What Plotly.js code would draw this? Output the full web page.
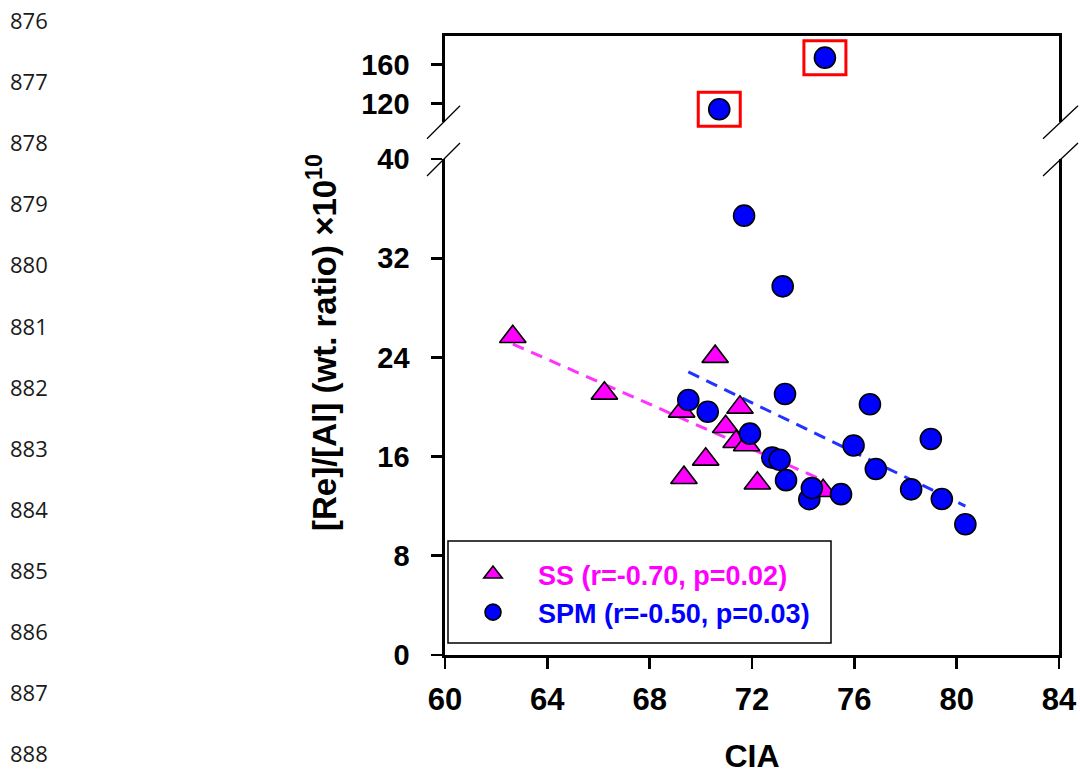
<!DOCTYPE html>
<html>
<head>
<meta charset="utf-8">
<script src="https://cdn.plot.ly/plotly-3.0.1.min.js"></script>
<style>
  html, body { margin: 0; padding: 0; background: #ffffff; }
  #chart { width: 1080px; height: 774px; }
</style>
</head>
<body>
<div id="chart"></div>
<script>
// CIA versus [Re]/[Al] (x10^10) for suspended sediment (SS) and suspended particulate matter (SPM)
const ssCIA   = [62.65, 66.23, 70.56, 69.25, 71.53, 70.97, 71.38, 71.79, 70.19, 69.34, 72.21, 74.78];
const ssRatio = [25.67, 21.10, 24.06, 19.65, 19.97, 18.41, 17.20, 16.94, 15.78, 14.30, 13.85, 13.25];

const spmCIA   = [71.69, 73.20, 69.51, 70.27, 73.29, 71.92, 72.79, 73.08, 73.33, 74.24, 74.34,
                  75.48, 75.97, 76.61, 78.99, 76.84, 78.22, 79.42, 80.34, 70.72, 74.85];
const spmRatio = [35.43, 29.73, 20.56, 19.62, 21.05, 17.85, 15.92, 15.75, 14.10, 12.57, 13.46,
                  12.97, 16.90, 20.22, 17.42, 15.00, 13.36, 12.58, 10.54, 114, 167];

const xTicks      = [60, 64, 68, 72, 76, 80, 84];
const yTicksLow   = [0, 8, 16, 24, 32, 40];
const yTicksHigh  = [120, 160];
const lineNumbers = ['876', '877', '878', '879', '880', '881', '882', '883', '884', '885', '886', '887', '888'];
const seriesNames = ['SS (r=-0.70, p=0.02)', 'SPM (r=-0.50, p=0.03)'];
const breakValue  = 40;   // values above this sit on the upper (broken) axis

const SS_COLOR  = '#ff00ff';
const SPM_COLOR = '#0000ff';
const FONT = 'Liberation Sans, Arial, sans-serif';

// figure geometry in pixels
const W = 1080, H = 774;
const M = { l: 445, r: 21, t: 36, b: 119 };
const plotW = W - M.l - M.r, plotH = H - M.t - M.b;
const pxToPaperX = px => (px - M.l) / plotW;
const pxToPaperY = py => (H - M.b - py) / plotH;
const lowTop = pxToPaperY(159);       // top of the lower panel
const highBottom = pxToPaperY(121.7); // bottom of the upper panel
const lowRange = [0, 40];
const highRange = [101.3, 189.2];
const highToPaper = v => highBottom + (v - highRange[0]) / (highRange[1] - highRange[0]) * (1 - highBottom);

// least-squares line over the span of the data
function fitLine(xs, ys) {
  const n = xs.length;
  const mx = xs.reduce((a, b) => a + b, 0) / n;
  const my = ys.reduce((a, b) => a + b, 0) / n;
  let sxy = 0, sxx = 0;
  for (let i = 0; i < n; i++) {
    sxy += (xs[i] - mx) * (ys[i] - my);
    sxx += (xs[i] - mx) * (xs[i] - mx);
  }
  const slope = sxy / sxx, icpt = my - slope * mx;
  const x0 = Math.min(...xs), x1 = Math.max(...xs);
  return { x: [x0, x1], y: [icpt + slope * x0, icpt + slope * x1] };
}

const spmLowIdx  = spmRatio.map((v, i) => i).filter(i => spmRatio[i] <= breakValue);
const spmHighIdx = spmRatio.map((v, i) => i).filter(i => spmRatio[i] > breakValue);
const spmLowX  = spmLowIdx.map(i => spmCIA[i]),  spmLowY  = spmLowIdx.map(i => spmRatio[i]);
const spmHighX = spmHighIdx.map(i => spmCIA[i]), spmHighY = spmHighIdx.map(i => spmRatio[i]);

const ssFit  = fitLine(ssCIA, ssRatio);
const spmFit = fitLine(spmLowX, spmLowY);

const circleMarker = { symbol: 'circle', size: 21, color: SPM_COLOR, line: { color: '#000', width: 1.6 } };
const triMarker    = { symbol: 'triangle-up', size: 23, color: SS_COLOR, line: { color: '#000', width: 1.6 } };

const traces = [
  { x: ssFit.x, y: ssFit.y, mode: 'lines', xaxis: 'x', yaxis: 'y', showlegend: false, hoverinfo: 'skip',
    line: { color: '#ff33ff', width: 3, dash: '12px,8px' } },
  { x: spmFit.x, y: spmFit.y, mode: 'lines', xaxis: 'x', yaxis: 'y', showlegend: false, hoverinfo: 'skip',
    line: { color: '#2233ff', width: 3, dash: '12px,8px' } },
  { x: ssCIA, y: ssRatio, mode: 'markers', xaxis: 'x', yaxis: 'y', marker: triMarker,
    name: '<span style="color:' + SS_COLOR + '">' + seriesNames[0] + '</span>' },
  { x: spmLowX, y: spmLowY, mode: 'markers', xaxis: 'x', yaxis: 'y', marker: circleMarker,
    name: '<span style="color:' + SPM_COLOR + '">' + seriesNames[1] + '</span>' },
  { x: spmHighX, y: spmHighY, mode: 'markers', xaxis: 'x2', yaxis: 'y2', marker: circleMarker, showlegend: false }
];

// red boxes around the off-scale SPM points (paper y so they are not cut at the panel edge)
const shapes = spmHighX.map((x, i) => ({
  type: 'rect', xref: 'x2', yref: 'paper',
  xsizemode: 'pixel', ysizemode: 'pixel', xanchor: x, yanchor: highToPaper(spmHighY[i]),
  x0: -21, x1: 21, y0: -17, y1: 17,
  line: { color: '#ff0000', width: 3 }
}));

// axis-break marks on both vertical edges
[[0, -18, 15], [1, -16, 19]].forEach(([side, dx0, dx1]) => {
  [highBottom, lowTop].forEach(yp => {
    shapes.push({
      type: 'line', xref: 'paper', yref: 'paper',
      xsizemode: 'pixel', ysizemode: 'pixel', xanchor: side, yanchor: yp,
      x0: dx0, x1: dx1, y0: -17, y1: 16,
      line: { color: '#000', width: 1.3 }
    });
  });
});

// framed white panel behind the legend entries
shapes.push({
  type: 'rect', xref: 'paper', yref: 'paper', layer: 'above',
  x0: pxToPaperX(448), x1: pxToPaperX(831), y0: pxToPaperY(643), y1: pxToPaperY(541),
  fillcolor: '#ffffff', line: { color: '#000', width: 1.5 }
});

const annotations = lineNumbers.map((t, i) => ({
  text: t, xref: 'paper', yref: 'paper',
  x: pxToPaperX(8), y: pxToPaperY(20 + i * 61.1),
  xanchor: 'left', yanchor: 'middle', showarrow: false,
  font: { family: 'Open Sans, Noto Sans, sans-serif', size: 22, color: '#1a1a1a' }
}));

annotations.push({
  text: '[Re]/[Al] (wt. ratio) ×10<sup>10</sup>',
  xref: 'paper', yref: 'paper', x: pxToPaperX(322), y: pxToPaperY(343),
  xanchor: 'center', yanchor: 'middle', textangle: -90, showarrow: false,
  font: { family: FONT, size: 33, color: '#000', weight: 'bold' }
});

const axisCommon = {
  showline: true, linecolor: '#000', linewidth: 2.6,
  ticks: 'outside', ticklen: 11, tickwidth: 2.6, tickcolor: '#000',
  showgrid: false, zeroline: false, fixedrange: true,
  tickfont: { family: FONT, size: 29, color: '#000', weight: 'bold' }
};

const layout = {
  width: W, height: H,
  margin: M,
  paper_bgcolor: '#ffffff', plot_bgcolor: '#ffffff',
  font: { family: FONT, color: '#000' },
  showlegend: true,
  legend: {
    x: pxToPaperX(448), y: pxToPaperY(550), xanchor: 'left', yanchor: 'top',
    bgcolor: 'rgba(0,0,0,0)', borderwidth: 0,
    font: { family: FONT, size: 27, weight: 'bold' },
    itemwidth: 80, tracegroupgap: 4
  },
  xaxis: Object.assign({}, axisCommon, {
    domain: [0, 1], anchor: 'y', range: [60, 84], tickvals: xTicks,
    ticklabelstandoff: 4,
    tickfont: { family: FONT, size: 31, color: '#000', weight: 'bold' },
    title: { text: 'CIA', standoff: 48, font: { family: FONT, size: 32, color: '#000', weight: 'bold' } }
  }),
  yaxis: Object.assign({}, axisCommon, {
    domain: [0, lowTop], anchor: 'x', range: lowRange, tickvals: yTicksLow,
    mirror: true, ticklabelstandoff: 16
  }),
  xaxis2: Object.assign({}, axisCommon, {
    domain: [0, 1], anchor: 'y2', side: 'top', matches: 'x',
    ticks: '', showticklabels: false
  }),
  yaxis2: Object.assign({}, axisCommon, {
    domain: [highBottom, 1], anchor: 'x2', range: highRange, tickvals: yTicksHigh,
    mirror: true, ticklabelstandoff: 16
  }),
  shapes: shapes,
  annotations: annotations
};

Plotly.newPlot('chart', traces, layout, { displayModeBar: false, staticPlot: true });
</script>
</body>
</html>
